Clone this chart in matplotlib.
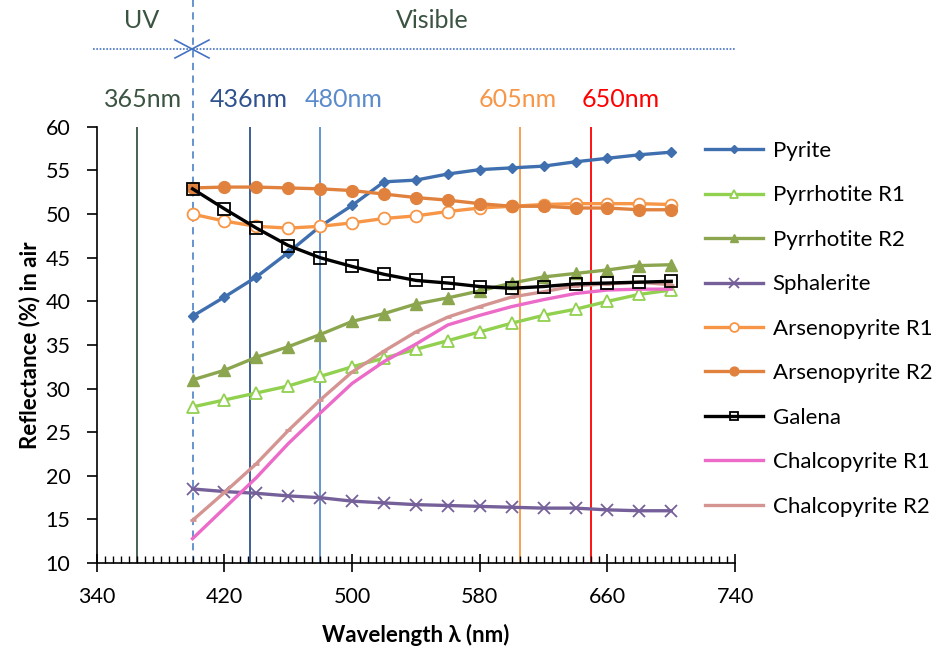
import matplotlib
matplotlib.use("Agg")
import matplotlib.pyplot as plt
from matplotlib.lines import Line2D
import numpy as np

plt.rcParams['font.family'] = ['Lato', 'DejaVu Sans']

wavelength = [400, 420, 440, 460, 480, 500, 520, 540, 560, 580, 600, 620, 640, 660, 680, 700]

pyrite = [38.3, 40.5, 42.8, 45.6, 48.6, 51.0, 53.7, 53.9, 54.6, 55.1, 55.3, 55.5, 56.0, 56.4, 56.8, 57.1]
pyrrhotite_r1 = [27.9, 28.7, 29.5, 30.3, 31.4, 32.5, 33.5, 34.5, 35.5, 36.5, 37.5, 38.4, 39.1, 40.0, 40.8, 41.3]
pyrrhotite_r2 = [31.0, 32.1, 33.6, 34.8, 36.2, 37.7, 38.6, 39.7, 40.4, 41.2, 42.1, 42.8, 43.2, 43.6, 44.1, 44.2]
sphalerite = [18.5, 18.2, 18.0, 17.7, 17.5, 17.1, 16.9, 16.7, 16.6, 16.5, 16.4, 16.3, 16.3, 16.1, 16.0, 16.0]
arseno_r1 = [50.0, 49.2, 48.6, 48.4, 48.6, 49.0, 49.5, 49.8, 50.3, 50.7, 50.9, 51.1, 51.2, 51.2, 51.2, 51.1]
arseno_r2 = [53.0, 53.1, 53.1, 53.0, 52.9, 52.7, 52.3, 51.9, 51.6, 51.2, 50.9, 50.9, 50.7, 50.7, 50.5, 50.5]
galena = [52.9, 50.6, 48.4, 46.4, 45.0, 44.0, 43.1, 42.4, 42.1, 41.7, 41.5, 41.7, 42.0, 42.1, 42.2, 42.3]
chalco_r1 = [12.8, 16.3, 19.8, 23.7, 27.2, 30.6, 33.1, 35.1, 37.3, 38.4, 39.4, 40.2, 40.9, 41.3, 41.4, 41.4]
chalco_r2 = [14.9, 18.1, 21.4, 25.2, 28.7, 31.9, 34.3, 36.5, 38.2, 39.4, 40.5, 41.1, 41.8, 42.0, 42.2, 41.9]

ref_lines = [365, 436, 480, 605, 650]
ref_labels = ['365nm', '436nm', '480nm', '605nm', '650nm']
ref_colors = ['#3b5442', '#2f528f', '#5b8bcb', '#f79646', '#ff0000']
ref_label_x = [369, 435, 495, 604, 668]
uv_boundary = 400

fig = plt.figure(figsize=(9.4, 6.54), dpi=100)
ax = fig.add_axes([0.103, 0.139, 0.679, 0.667])

for xv, c in zip(ref_lines, ref_colors):
    ax.axvline(xv, color=c, lw=1.3, zorder=1)
for xv, lab, c, lx in zip(ref_lines, ref_labels, ref_colors, ref_label_x):
    ax.text(lx, 63.1, lab, color=c, fontsize=18, ha='center', va='center', clip_on=False)

# dashed UV/visible boundary runs up to the top of the figure
ax.plot([uv_boundary, uv_boundary], [10, 74.5], color='#5b8bcb', lw=1.3, ls=(0, (4, 3)),
        clip_on=False, zorder=1)

lw = 2.4
ax.plot(wavelength, pyrite, color='#3f6fae', lw=lw, marker='D', ms=5, label='Pyrite', zorder=3)
ax.plot(wavelength, pyrrhotite_r1, color='#92d050', lw=lw, marker='^', ms=8, mfc='white',
        mec='#92d050', mew=1.3, label='Pyrrhotite R1', zorder=3)
ax.plot(wavelength, pyrrhotite_r2, color='#8ba64e', lw=lw, marker='^', ms=8, label='Pyrrhotite R2', zorder=3)
ax.plot(wavelength, sphalerite, color='#76609a', lw=lw, marker='x', ms=9, mew=1.3, label='Sphalerite', zorder=3)
ax.plot(wavelength, arseno_r1, color='#f79646', lw=lw, marker='o', ms=8.5, mfc='white',
        mec='#f79646', mew=1.3, label='Arsenopyrite R1', zorder=3)
ax.plot(wavelength, arseno_r2, color='#e0823d', lw=lw, marker='o', ms=8.5, label='Arsenopyrite R2', zorder=3)
ax.plot(wavelength, galena, color='black', lw=lw, marker='s', ms=8.5, mfc='none',
        mec='black', mew=1.3, label='Galena', zorder=4)
ax.plot(wavelength, chalco_r1, color='#ec6ac8', lw=lw, label='Chalcopyrite R1', zorder=3)
ax.plot(wavelength, chalco_r2, color='#d49592', lw=lw, marker='_', ms=5, mew=2,
        label='Chalcopyrite R2', zorder=3)

ax.set_xlim(340, 740)
ax.set_ylim(10, 60)
ax.set_xticks(np.arange(340, 741, 80))
ax.set_xticks(np.arange(340, 741, 5), minor=True)
ax.set_yticks(np.arange(10, 61, 5))
ax.tick_params(axis='x', which='major', direction='inout', length=13, width=1.2, labelsize=15.5, pad=11)
ax.tick_params(axis='x', which='minor', direction='in', length=5, width=1)
ax.tick_params(axis='y', which='major', direction='out', length=7, width=1.2, labelsize=15.5, pad=12)
ax.spines['top'].set_visible(False)
ax.spines['right'].set_visible(False)
ax.spines['left'].set_linewidth(1.2)
ax.spines['bottom'].set_linewidth(1.2)

ax.set_xlabel('Wavelength λ (nm)', fontsize=16, fontweight='bold', labelpad=12)
ax.set_ylabel('Reflectance (%) in air', fontsize=16, fontweight='bold', labelpad=4)

fig.legend(*ax.get_legend_handles_labels(), loc='upper left',
           bbox_to_anchor=(705 / 940, 1 - 141 / 654), frameon=False, fontsize=16,
           handlelength=2.6, labelspacing=1.1, handletextpad=0.45, borderaxespad=0, borderpad=0,
           markerscale=0.75)

# UV / Visible band indicator above the plot
fig.add_artist(Line2D([93 / 940, 735 / 940], [1 - 49 / 654, 1 - 49 / 654],
                      color='#4472c4', lw=1.2, ls=(0, (1, 1))))
bx, by = 192 / 940, 1 - 49 / 654
dx, dy = 17 / 940, 9 / 654
fig.add_artist(Line2D([bx - dx, bx, bx - dx], [by + dy, by, by - dy], color='#4472c4', lw=1.2))
fig.add_artist(Line2D([bx + dx, bx, bx + dx], [by + dy, by, by - dy], color='#4472c4', lw=1.2))
fig.text(142 / 940, 1 - 21 / 654, 'UV', color='#3b5442', fontsize=18, ha='center', va='center')
fig.text(432 / 940, 1 - 21 / 654, 'Visible', color='#3b5442', fontsize=18, ha='center', va='center')

fig.savefig('out.png', dpi=100)
